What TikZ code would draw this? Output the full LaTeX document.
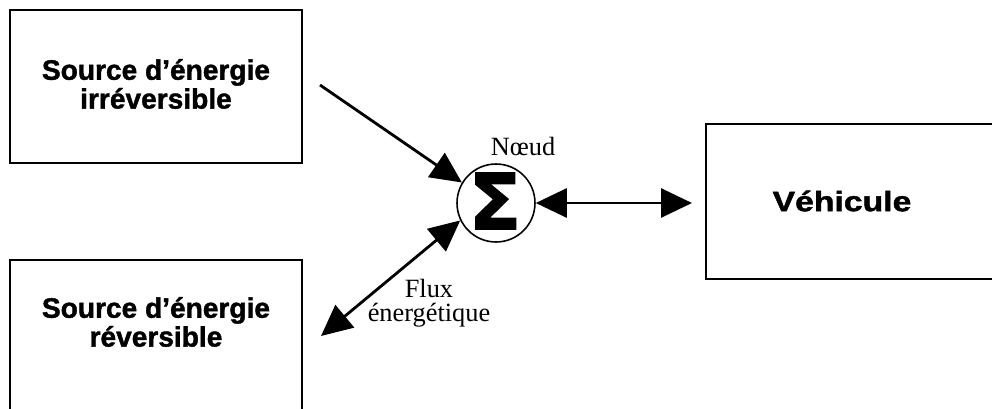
\documentclass[tikz,border=0pt]{standalone}
\usepackage{fontspec}
\setmainfont{Liberation Serif}
\newfontfamily\boxfont{Liberation Sans Bold}[FakeBold=1.4]
\newfontfamily\sigmafont{DejaVu Sans Bold}[FakeBold=1.5]
\usetikzlibrary{arrows.meta}

\begin{document}
\begin{tikzpicture}
    [
      x=0.02cm, y=-0.02cm,
      every node/.style={black},
      box/.style={draw, line width=0.8pt},
      boxtext/.style={font=\boxfont\fontsize{16}{16.4}\selectfont, align=center},
      label/.style={font=\fontsize{15}{14}\selectfont, align=center},
      flow/.style={line width=1.6pt, -{Triangle[length=0.62cm, width=0.58cm]}},
      flowboth/.style={line width=1.6pt, {Triangle[length=0.62cm, width=0.58cm]}-{Triangle[length=0.62cm, width=0.58cm]}},
    ]

    \useasboundingbox (0,0) rectangle (992,409);

    % sources and vehicle
    \draw [box] (10,10) rectangle (302,163);
    \draw [box] (10,260) rectangle (302,420);
    \draw [box] (706,124) rectangle (1000,279);

    \node (irr) [boxtext] at (156,84) {Source d’énergie\\irréversible};
    \node (rev) [boxtext] at (156,322) {Source d’énergie\\réversible};
    \node (veh) [boxtext, xscale=1.2] at (842,201) {Véhicule};

    % node of the energy flows
    \node (sum) [circle, draw, line width=0.9pt, minimum size=1.56cm, inner sep=0pt]
      at (496,203) {};
    \node (sigma) at (495,201) {\sigmafont\fontsize{44}{44}\selectfont Σ};
    \node (noeud) [label, anchor=base] at (523,155) {Nœud};
    \node (flux) [label] at (429,303) {Flux\\énergétique};

    \coordinate (irrout) at (320,85);
    \coordinate (revout) at (321,336);
    \coordinate (vehin) at (692,203);

    \draw [flow] (irrout) -- (sum.149);
    \draw [flowboth] (revout) -- (sum.206);
    \draw [flowboth] (sum.east) -- (vehin);
  \end{tikzpicture}
\end{document}
